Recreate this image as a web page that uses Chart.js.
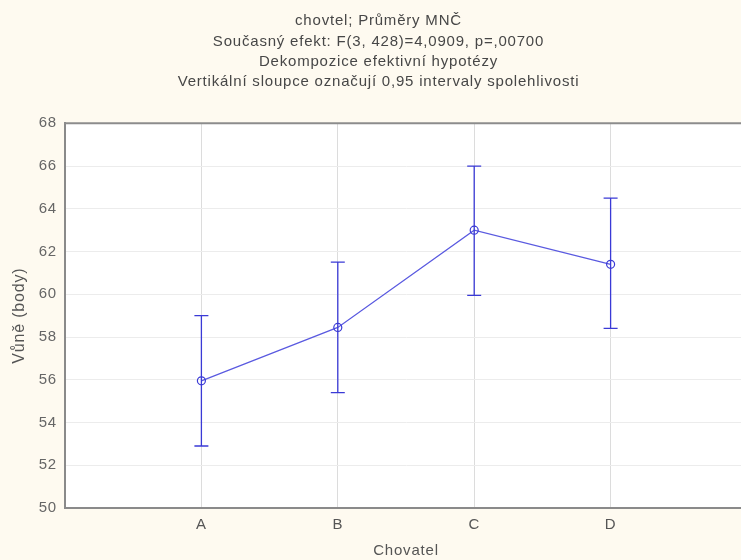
<!DOCTYPE html>
<html>
<head>
<meta charset="utf-8">
<script src="https://cdn.jsdelivr.net/npm/chart.js@4/dist/chart.umd.min.js"></script>
<style>
html,body{margin:0;padding:0;overflow:hidden;background:#FEFAF0;}
#wrap{width:762px;height:560px;position:relative;}
</style>
</head>
<body>
<div id="wrap"><canvas id="c" width="762" height="560"></canvas></div>
<script>
const categories = ['A', 'B', 'C', 'D'];
const means = [55.95, 58.45, 63.0, 61.4];
const lower = [52.9, 55.4, 59.95, 58.4];
const upper = [59.0, 61.5, 66.0, 64.5];
const yTicks = [50, 52, 54, 56, 58, 60, 62, 64, 66, 68];
const titleLines = [
  'chovtel; Průměry MNČ',
  'Současný efekt: F(3, 428)=4,0909, p=,00700',
  'Dekompozice efektivní hypotézy',
  'Vertikální sloupce označují 0,95 intervaly spolehlivosti'
];

const FONT = "'Liberation Sans', Arial, sans-serif";

const bgPlugin = {
  id: 'bg',
  beforeDraw(chart) {
    const {ctx, chartArea: a} = chart;
    ctx.letterSpacing = '0.8px';
    ctx.save();
    ctx.fillStyle = '#FEFAF0';
    ctx.fillRect(0, 0, chart.width, chart.height);
    ctx.fillStyle = '#FFFFFF';
    ctx.fillRect(a.left, a.top, a.right - a.left, a.bottom - a.top);
    ctx.restore();
  },
  afterDraw(chart) {
    const {ctx, chartArea: a} = chart;
    ctx.save();
    ctx.strokeStyle = '#8c8c8c';
    ctx.lineWidth = 2;
    ctx.beginPath();
    ctx.moveTo(a.left - 1, a.top);
    ctx.lineTo(a.right + 1, a.top);
    ctx.stroke();
    ctx.restore();
  }
};

const errPlugin = {
  id: 'errbars',
  afterDatasetsDraw(chart) {
    const {ctx, scales: {x, y}} = chart;
    ctx.save();
    ctx.strokeStyle = '#3a3ad6';
    ctx.lineWidth = 1.3;
    for (let i = 0; i < categories.length; i++) {
      const px = x.getPixelForValue(i + 1);
      const y1 = y.getPixelForValue(lower[i]);
      const y2 = y.getPixelForValue(upper[i]);
      ctx.beginPath();
      ctx.moveTo(px, y1); ctx.lineTo(px, y2);
      ctx.moveTo(px - 7, y1); ctx.lineTo(px + 7, y1);
      ctx.moveTo(px - 7, y2); ctx.lineTo(px + 7, y2);
      ctx.stroke();
    }
    ctx.restore();
  }
};

new Chart(document.getElementById('c'), {
  type: 'line',
  data: {
    datasets: [{
      data: means.map((m, i) => ({x: i + 1, y: m})),
      borderColor: '#5a5ae0',
      borderWidth: 1.2,
      pointRadius: 4,
      pointBorderWidth: 1.2,
      pointBackgroundColor: 'rgba(255,255,255,0)',
      pointBorderColor: '#3a3ad6',
      tension: 0,
      fill: false
    }]
  },
  options: {
    responsive: false,
    animation: false,
    devicePixelRatio: 1,
    layout: {padding: {left: 10, right: 15, top: 0, bottom: 0}},
    plugins: {
      legend: {display: false},
      tooltip: {enabled: false},
      title: {
        display: true,
        text: titleLines,
        color: '#474747',
        font: {family: FONT, size: 15, weight: 'normal', lineHeight: 1.355},
        padding: {top: 11, bottom: 31}
      }
    },
    scales: {
      x: {
        type: 'linear',
        min: 0, max: 5,
        afterBuildTicks(s) { s.ticks = [0,1,2,3,4,5].map(v => ({value: v})); },
        afterFit(s) { s.height = 52; },
        ticks: {
          callback: v => categories[v - 1] || '',
          color: '#555555',
          font: {family: FONT, size: 15},
          padding: 8,
          maxRotation: 0
        },
        grid: {color: '#dcdcdc', drawTicks: false, lineWidth: 1},
        border: {color: '#8a8a8a', width: 2},
        title: {
          display: true,
          text: 'Chovatel',
          color: '#555555',
          font: {family: FONT, size: 15},
          padding: {top: 9, bottom: 0}
        }
      },
      y: {
        min: 50, max: 68,
        afterBuildTicks(s) { s.ticks = yTicks.map(v => ({value: v})); },
        afterFit(s) { s.width = 55; },
        ticks: {
          color: '#666666',
          font: {family: FONT, size: 15},
          padding: 8
        },
        grid: {color: '#ececec', drawTicks: false, lineWidth: 1},
        border: {color: '#8a8a8a', width: 2},
        title: {
          display: true,
          text: 'Vůně (body)',
          color: '#555555',
          font: {family: FONT, size: 16},
          padding: {top: 0, bottom: 4}
        }
      }
    }
  },
  plugins: [bgPlugin, errPlugin]
});
</script>
</body>
</html>
